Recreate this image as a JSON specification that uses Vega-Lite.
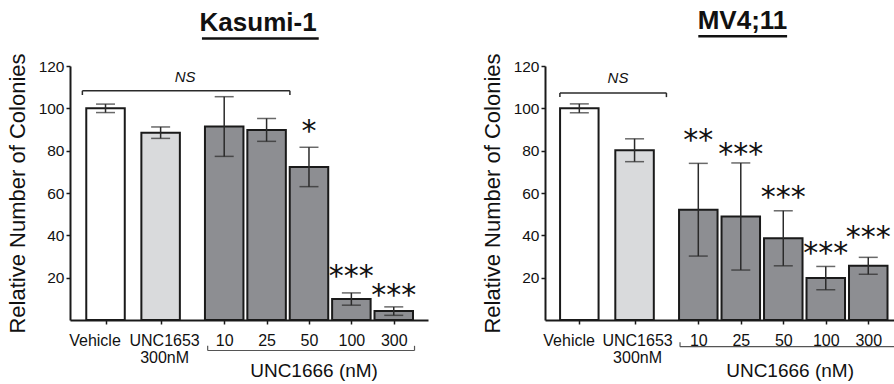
{
  "$schema": "https://vega.github.io/schema/vega-lite/v6.json",
  "padding": {"left": 6, "top": 8, "right": 0, "bottom": 0},
  "background": "white",
  "config": {"view": {"stroke": null}, "font": "Liberation Sans"},
  "spacing": 53,
  "datasets": {
    "colonies": [
      {"line": "Kasumi-1", "treatment": "Vehicle", "group": "Vehicle", "slot": 0, "mean": 100, "err": 2.0, "sig": "", "sig_y": null},
      {"line": "Kasumi-1", "treatment": "UNC1653 300nM", "group": "UNC1653", "slot": 1.3, "mean": 88.5, "err": 2.7, "sig": "", "sig_y": null},
      {"line": "Kasumi-1", "treatment": "UNC1666 10nM", "group": "UNC1666", "slot": 2.8, "mean": 91.4, "err": 14.1, "sig": "", "sig_y": null},
      {"line": "Kasumi-1", "treatment": "UNC1666 25nM", "group": "UNC1666", "slot": 3.8, "mean": 89.8, "err": 5.4, "sig": "", "sig_y": null},
      {"line": "Kasumi-1", "treatment": "UNC1666 50nM", "group": "UNC1666", "slot": 4.8, "mean": 72.3, "err": 9.3, "sig": "*", "sig_y": 91.3},
      {"line": "Kasumi-1", "treatment": "UNC1666 100nM", "group": "UNC1666", "slot": 5.8, "mean": 9.9, "err": 2.9, "sig": "***", "sig_y": 22.6},
      {"line": "Kasumi-1", "treatment": "UNC1666 300nM", "group": "UNC1666", "slot": 6.8, "mean": 4.2, "err": 2.0, "sig": "***", "sig_y": 13.8},
      {"line": "MV4;11", "treatment": "Vehicle", "group": "Vehicle", "slot": 0, "mean": 100, "err": 2.1, "sig": "", "sig_y": null},
      {"line": "MV4;11", "treatment": "UNC1653 300nM", "group": "UNC1653", "slot": 1.3, "mean": 80.2, "err": 5.4, "sig": "", "sig_y": null},
      {"line": "MV4;11", "treatment": "UNC1666 10nM", "group": "UNC1666", "slot": 2.8, "mean": 52.1, "err": 21.9, "sig": "**", "sig_y": 87},
      {"line": "MV4;11", "treatment": "UNC1666 25nM", "group": "UNC1666", "slot": 3.8, "mean": 48.9, "err": 25.3, "sig": "***", "sig_y": 80.4},
      {"line": "MV4;11", "treatment": "UNC1666 50nM", "group": "UNC1666", "slot": 4.8, "mean": 38.6, "err": 13.0, "sig": "***", "sig_y": 60.2},
      {"line": "MV4;11", "treatment": "UNC1666 100nM", "group": "UNC1666", "slot": 5.8, "mean": 19.8, "err": 5.5, "sig": "***", "sig_y": 33.7},
      {"line": "MV4;11", "treatment": "UNC1666 300nM", "group": "UNC1666", "slot": 6.8, "mean": 25.6, "err": 4.0, "sig": "***", "sig_y": 41.2}
    ]
  },
  "hconcat": [
    {
      "width": 358,
      "height": 254,
      "layer": [
        {
          "data": {"name": "colonies"},
          "transform": [{"filter": "datum.line == 'Kasumi-1'"}],
          "mark": {"type": "bar", "width": 38.5, "stroke": "#1a1a1a", "strokeWidth": 2},
          "encoding": {
            "x": {"field": "slot", "type": "quantitative", "scale": {"domain": [-0.72, 7.49], "nice": false, "zero": false},
              "axis": {"values": [0, 1.3, 2.8, 3.8, 4.8, 5.8, 6.8], "labelExpr": "datum.value == 0 ? 'Vehicle' : datum.value == 1.3 ? ['UNC1653', '300nM'] : datum.value == 2.8 ? '10' : datum.value == 3.8 ? '25' : datum.value == 4.8 ? '50' : datum.value == 5.8 ? '100' : '300'", "labelOffset": {"condition": [{"test": "datum.value == 0", "value": -11}, {"test": "datum.value == 1.3", "value": 3.5}], "value": 0}, "title": null, "grid": false, "domainColor": "#1a1a1a", "domainWidth": 2, "tickColor": "#1a1a1a", "tickWidth": 1.5, "tickSize": 4, "labelFont": "Liberation Sans", "labelFontSize": 16, "labelColor": "#111111", "labelPadding": 8, "labelLineHeight": 17, "labelOverlap": false, "labelFlush": false}},
            "y": {"field": "mean", "type": "quantitative", "title": "Relative Number of Colonies", "scale": {"domain": [0, 120], "nice": false},
              "axis": {"values": [20, 40, 60, 80, 100, 120], "titleFont": "Liberation Sans", "titleFontSize": 22, "titleFontWeight": "normal", "titleColor": "#111111", "titlePadding": 9, "grid": false, "domainColor": "#1a1a1a", "domainWidth": 2, "tickColor": "#1a1a1a", "tickWidth": 1.5, "tickSize": 4, "labelFont": "Liberation Sans", "labelFontSize": 15.5, "labelColor": "#111111", "labelPadding": 2}},
            "fill": {"field": "group", "type": "nominal", "scale": {"domain": ["Vehicle", "UNC1653", "UNC1666"], "range": ["#ffffff", "#d9dadc", "#8d8e92"]}, "legend": null}
          }
        },
        {
          "data": {"name": "colonies"},
          "transform": [{"filter": "datum.line == 'Kasumi-1'"}],
          "mark": {"type": "errorbar", "ticks": {"size": 19, "thickness": 1.5, "color": "#2a2a2a"}, "rule": {"strokeWidth": 1.5, "color": "#2a2a2a"}},
          "encoding": {
            "x": {"field": "slot", "type": "quantitative", "scale": {"domain": [-0.72, 7.49], "nice": false, "zero": false}},
            "y": {"field": "mean", "type": "quantitative", "title": "Relative Number of Colonies", "scale": {"domain": [0, 120], "nice": false}},
            "yError": {"field": "err"}
          }
        },
        {
          "data": {"name": "colonies"},
          "transform": [{"filter": "datum.line == 'Kasumi-1' && datum.sig != ''"}],
          "mark": {"type": "text", "font": "DejaVu Sans", "fontSize": 30, "color": "#111111", "baseline": "middle", "align": "center", "dy": 5, "clip": false},
          "encoding": {
            "x": {"field": "slot", "type": "quantitative", "scale": {"domain": [-0.72, 7.49], "nice": false, "zero": false}},
            "y": {"field": "sig_y", "type": "quantitative", "title": "Relative Number of Colonies", "scale": {"domain": [0, 120], "nice": false}},
            "text": {"field": "sig"}
          }
        },
        {
          "data": {"values": [{}]},
          "mark": {"type": "rule", "stroke": "#2a2a2a", "strokeWidth": 1.5, "clip": false},
          "encoding": {"x": {"datum": -0.546, "type": "quantitative", "scale": {"domain": [-0.72, 7.49], "nice": false, "zero": false}}, "x2": {"datum": 4.35}, "y": {"datum": 108.3, "type": "quantitative", "scale": {"domain": [0, 120], "nice": false}}}
        },
        {
          "data": {"values": [{}]},
          "mark": {"type": "rule", "stroke": "#2a2a2a", "strokeWidth": 1.5, "clip": false},
          "encoding": {"x": {"datum": -0.546, "type": "quantitative", "scale": {"domain": [-0.72, 7.49], "nice": false, "zero": false}}, "y": {"datum": 108.3, "type": "quantitative", "scale": {"domain": [0, 120], "nice": false}}, "y2": {"datum": 106.3}}
        },
        {
          "data": {"values": [{}]},
          "mark": {"type": "rule", "stroke": "#2a2a2a", "strokeWidth": 1.5, "clip": false},
          "encoding": {"x": {"datum": 4.35, "type": "quantitative", "scale": {"domain": [-0.72, 7.49], "nice": false, "zero": false}}, "y": {"datum": 108.3, "type": "quantitative", "scale": {"domain": [0, 120], "nice": false}}, "y2": {"datum": 106.3}}
        },
        {
          "data": {"values": [{}]},
          "mark": {"type": "text", "text": "NS", "font": "Liberation Sans", "fontStyle": "italic", "fontWeight": "normal", "fontSize": 15, "color": "#111111", "baseline": "middle", "align": "center", "clip": false},
          "encoding": {"x": {"datum": 1.88, "type": "quantitative", "scale": {"domain": [-0.72, 7.49], "nice": false, "zero": false}}, "y": {"datum": 114.8, "type": "quantitative", "scale": {"domain": [0, 120], "nice": false}}}
        },
        {
          "data": {"values": [{}]},
          "mark": {"type": "rule", "stroke": "#555555", "strokeWidth": 1.2, "clip": false},
          "encoding": {"x": {"datum": 2.41, "type": "quantitative", "scale": {"domain": [-0.72, 7.49], "nice": false, "zero": false}}, "x2": {"datum": 7.29}, "y": {"datum": -14.4, "type": "quantitative", "scale": {"domain": [0, 120], "nice": false}}}
        },
        {
          "data": {"values": [{}]},
          "mark": {"type": "rule", "stroke": "#555555", "strokeWidth": 1.2, "clip": false},
          "encoding": {"x": {"datum": 2.41, "type": "quantitative", "scale": {"domain": [-0.72, 7.49], "nice": false, "zero": false}}, "y": {"datum": -14.4, "type": "quantitative", "scale": {"domain": [0, 120], "nice": false}}, "y2": {"datum": -12.2}}
        },
        {
          "data": {"values": [{}]},
          "mark": {"type": "rule", "stroke": "#555555", "strokeWidth": 1.2, "clip": false},
          "encoding": {"x": {"datum": 7.29, "type": "quantitative", "scale": {"domain": [-0.72, 7.49], "nice": false, "zero": false}}, "y": {"datum": -14.4, "type": "quantitative", "scale": {"domain": [0, 120], "nice": false}}, "y2": {"datum": -12.2}}
        },
        {
          "data": {"values": [{}]},
          "mark": {"type": "text", "text": "UNC1666 (nM)", "font": "Liberation Sans", "fontWeight": "normal", "fontSize": 19, "color": "#111111", "baseline": "middle", "align": "center", "clip": false},
          "encoding": {"x": {"datum": 4.92, "type": "quantitative", "scale": {"domain": [-0.72, 7.49], "nice": false, "zero": false}}, "y": {"datum": -24.1, "type": "quantitative", "scale": {"domain": [0, 120], "nice": false}}}
        },
        {
          "data": {"values": [{}]},
          "mark": {"type": "text", "text": "Kasumi-1", "font": "Liberation Sans", "fontSize": 26, "fontWeight": "bold", "color": "#111111", "baseline": "alphabetic", "align": "center", "clip": false},
          "encoding": {"x": {"datum": 3.6, "type": "quantitative", "scale": {"domain": [-0.72, 7.49], "nice": false, "zero": false}}, "y": {"datum": 136.4, "type": "quantitative", "scale": {"domain": [0, 120], "nice": false}}}
        },
        {
          "data": {"values": [{}]},
          "mark": {"type": "rule", "stroke": "#111111", "strokeWidth": 2.5, "clip": false},
          "encoding": {"x": {"datum": 2.275, "type": "quantitative", "scale": {"domain": [-0.72, 7.49], "nice": false, "zero": false}}, "x2": {"datum": 5.03}, "y": {"datum": 133, "type": "quantitative", "scale": {"domain": [0, 120], "nice": false}}}
        }
      ]
    },
    {
      "width": 358,
      "height": 254,
      "layer": [
        {
          "data": {"name": "colonies"},
          "transform": [{"filter": "datum.line == 'MV4;11'"}],
          "mark": {"type": "bar", "width": 38.5, "stroke": "#1a1a1a", "strokeWidth": 2},
          "encoding": {
            "x": {"field": "slot", "type": "quantitative", "scale": {"domain": [-0.69, 7.5], "nice": false, "zero": false},
              "axis": {"values": [0, 1.3, 2.8, 3.8, 4.8, 5.8, 6.8], "labelExpr": "datum.value == 0 ? 'Vehicle' : datum.value == 1.3 ? ['UNC1653', '300nM'] : datum.value == 2.8 ? '10' : datum.value == 3.8 ? '25' : datum.value == 4.8 ? '50' : datum.value == 5.8 ? '100' : '300'", "labelOffset": {"condition": [{"test": "datum.value == 0", "value": -10.7}, {"test": "datum.value == 1.3", "value": 2.5}], "value": 0}, "title": null, "grid": false, "domainColor": "#1a1a1a", "domainWidth": 2, "tickColor": "#1a1a1a", "tickWidth": 1.5, "tickSize": 4, "labelFont": "Liberation Sans", "labelFontSize": 16, "labelColor": "#111111", "labelPadding": 8, "labelLineHeight": 17, "labelOverlap": false, "labelFlush": false}},
            "y": {"field": "mean", "type": "quantitative", "title": "Relative Number of Colonies", "scale": {"domain": [0, 120], "nice": false},
              "axis": {"values": [20, 40, 60, 80, 100, 120], "titleFont": "Liberation Sans", "titleFontSize": 22, "titleFontWeight": "normal", "titleColor": "#111111", "titlePadding": 9, "grid": false, "domainColor": "#1a1a1a", "domainWidth": 2, "tickColor": "#1a1a1a", "tickWidth": 1.5, "tickSize": 4, "labelFont": "Liberation Sans", "labelFontSize": 15.5, "labelColor": "#111111", "labelPadding": 2}},
            "fill": {"field": "group", "type": "nominal", "scale": {"domain": ["Vehicle", "UNC1653", "UNC1666"], "range": ["#ffffff", "#d9dadc", "#8d8e92"]}, "legend": null}
          }
        },
        {
          "data": {"name": "colonies"},
          "transform": [{"filter": "datum.line == 'MV4;11'"}],
          "mark": {"type": "errorbar", "ticks": {"size": 19, "thickness": 1.5, "color": "#2a2a2a"}, "rule": {"strokeWidth": 1.5, "color": "#2a2a2a"}},
          "encoding": {
            "x": {"field": "slot", "type": "quantitative", "scale": {"domain": [-0.69, 7.5], "nice": false, "zero": false}},
            "y": {"field": "mean", "type": "quantitative", "title": "Relative Number of Colonies", "scale": {"domain": [0, 120], "nice": false}},
            "yError": {"field": "err"}
          }
        },
        {
          "data": {"name": "colonies"},
          "transform": [{"filter": "datum.line == 'MV4;11' && datum.sig != ''"}],
          "mark": {"type": "text", "font": "DejaVu Sans", "fontSize": 30, "color": "#111111", "baseline": "middle", "align": "center", "dy": 5, "clip": false},
          "encoding": {
            "x": {"field": "slot", "type": "quantitative", "scale": {"domain": [-0.69, 7.5], "nice": false, "zero": false}},
            "y": {"field": "sig_y", "type": "quantitative", "title": "Relative Number of Colonies", "scale": {"domain": [0, 120], "nice": false}},
            "text": {"field": "sig"}
          }
        },
        {
          "data": {"values": [{}]},
          "mark": {"type": "rule", "stroke": "#2a2a2a", "strokeWidth": 1.5, "clip": false},
          "encoding": {"x": {"datum": -0.457, "type": "quantitative", "scale": {"domain": [-0.69, 7.5], "nice": false, "zero": false}}, "x2": {"datum": 2.05}, "y": {"datum": 107.3, "type": "quantitative", "scale": {"domain": [0, 120], "nice": false}}}
        },
        {
          "data": {"values": [{}]},
          "mark": {"type": "rule", "stroke": "#2a2a2a", "strokeWidth": 1.5, "clip": false},
          "encoding": {"x": {"datum": -0.457, "type": "quantitative", "scale": {"domain": [-0.69, 7.5], "nice": false, "zero": false}}, "y": {"datum": 107.3, "type": "quantitative", "scale": {"domain": [0, 120], "nice": false}}, "y2": {"datum": 105.3}}
        },
        {
          "data": {"values": [{}]},
          "mark": {"type": "rule", "stroke": "#2a2a2a", "strokeWidth": 1.5, "clip": false},
          "encoding": {"x": {"datum": 2.05, "type": "quantitative", "scale": {"domain": [-0.69, 7.5], "nice": false, "zero": false}}, "y": {"datum": 107.3, "type": "quantitative", "scale": {"domain": [0, 120], "nice": false}}, "y2": {"datum": 105.3}}
        },
        {
          "data": {"values": [{}]},
          "mark": {"type": "text", "text": "NS", "font": "Liberation Sans", "fontStyle": "italic", "fontWeight": "normal", "fontSize": 15, "color": "#111111", "baseline": "middle", "align": "center", "clip": false},
          "encoding": {"x": {"datum": 0.91, "type": "quantitative", "scale": {"domain": [-0.69, 7.5], "nice": false, "zero": false}}, "y": {"datum": 114.1, "type": "quantitative", "scale": {"domain": [0, 120], "nice": false}}}
        },
        {
          "data": {"values": [{}]},
          "mark": {"type": "rule", "stroke": "#555555", "strokeWidth": 1.2, "clip": false},
          "encoding": {"x": {"datum": 2.37, "type": "quantitative", "scale": {"domain": [-0.69, 7.5], "nice": false, "zero": false}}, "x2": {"datum": 7.45}, "y": {"datum": -12.6, "type": "quantitative", "scale": {"domain": [0, 120], "nice": false}}}
        },
        {
          "data": {"values": [{}]},
          "mark": {"type": "rule", "stroke": "#555555", "strokeWidth": 1.2, "clip": false},
          "encoding": {"x": {"datum": 2.37, "type": "quantitative", "scale": {"domain": [-0.69, 7.5], "nice": false, "zero": false}}, "y": {"datum": -12.6, "type": "quantitative", "scale": {"domain": [0, 120], "nice": false}}, "y2": {"datum": -10.5}}
        },
        {
          "data": {"values": [{}]},
          "mark": {"type": "text", "text": "UNC1666 (nM)", "font": "Liberation Sans", "fontWeight": "normal", "fontSize": 19, "color": "#111111", "baseline": "middle", "align": "center", "clip": false},
          "encoding": {"x": {"datum": 4.96, "type": "quantitative", "scale": {"domain": [-0.69, 7.5], "nice": false, "zero": false}}, "y": {"datum": -24.1, "type": "quantitative", "scale": {"domain": [0, 120], "nice": false}}}
        },
        {
          "data": {"values": [{}]},
          "mark": {"type": "text", "text": "MV4;11", "font": "Liberation Sans", "fontSize": 26, "fontWeight": "bold", "color": "#111111", "baseline": "alphabetic", "align": "center", "clip": false},
          "encoding": {"x": {"datum": 3.84, "type": "quantitative", "scale": {"domain": [-0.69, 7.5], "nice": false, "zero": false}}, "y": {"datum": 137.4, "type": "quantitative", "scale": {"domain": [0, 120], "nice": false}}}
        },
        {
          "data": {"values": [{}]},
          "mark": {"type": "rule", "stroke": "#111111", "strokeWidth": 2.5, "clip": false},
          "encoding": {"x": {"datum": 2.8, "type": "quantitative", "scale": {"domain": [-0.69, 7.5], "nice": false, "zero": false}}, "x2": {"datum": 4.89}, "y": {"datum": 134, "type": "quantitative", "scale": {"domain": [0, 120], "nice": false}}}
        }
      ]
    }
  ]
}
